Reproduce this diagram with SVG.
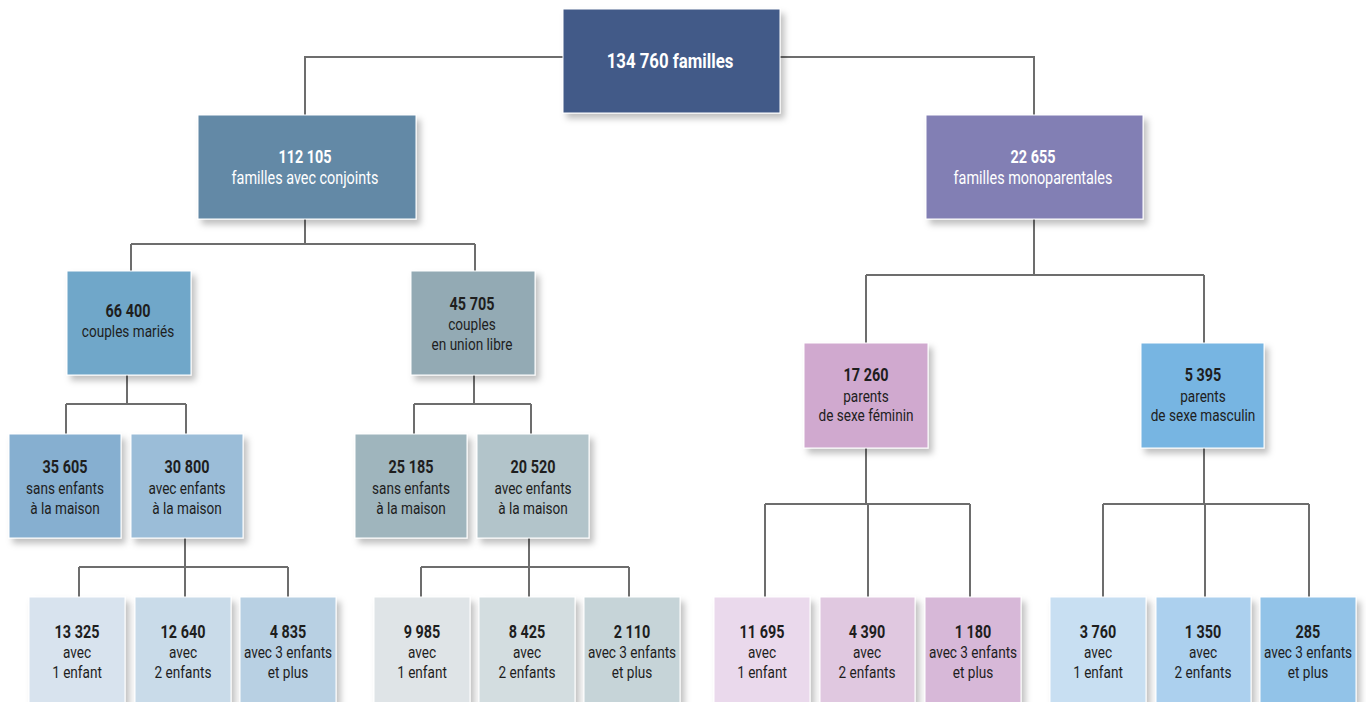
<svg xmlns="http://www.w3.org/2000/svg" width="1366" height="702" viewBox="0 0 1366 702">
<style>
text{font-family:Roboto,"DejaVu Sans",sans-serif;text-anchor:middle;fill:#1e1e1e;font-size:17px}
.n{font-weight:bold;font-size:18px}
.w{fill:#fff}
.t{font-size:21px;font-weight:bold}
.l{font-size:18px}
#connectors path{fill:none;stroke:#6d6d6d;stroke-width:2}
rect{filter:url(#sh);stroke:#fff;stroke-width:1}
</style>
<defs>
<filter id="sh" x="-10%" y="-10%" width="130%" height="130%">
<feDropShadow dx="4" dy="5" stdDeviation="3" flood-color="#000" flood-opacity="0.25"/>
</filter>
</defs>
<rect x="0" y="0" width="1366" height="702" fill="#fff" style="filter:none;stroke:none"/>
<g id="connectors">
<path d="M563 57H305V115M780 57H1034V115"/>
<path d="M305 219V244M131 244H475M131 244V271M475 244V271"/>
<path d="M127 375V404M66 404H186M66 404V434M186 404V434"/>
<path d="M474 375V404M414 404H531M414 404V434M531 404V434"/>
<path d="M185 538V567M79 567H288M79 567V597M185 567V597M288 567V597"/>
<path d="M529 538V567M421 567H629M421 567V597M529 567V597M629 567V597"/>
<path d="M1034 219V275M866 275H1204M866 275V343M1204 275V343"/>
<path d="M866 448V504M765 504H970M765 504V597M868 504V597M970 504V597"/>
<path d="M1204 448V504M1103 504H1309M1103 504V597M1205 504V597M1309 504V597"/>
</g>
<g id="n0"><rect x="563" y="9" width="217" height="104" fill="#425a88"/><g transform="translate(670,0) scale(0.8,1)"><text class="t w" x="0" y="68">134 760 familles</text></g></g>
<g id="n1"><rect x="198" y="115" width="218" height="104" fill="#6389a6"/><g transform="translate(305,0) scale(0.8,1)"><text class="n w" x="0" y="163">112 105</text><text class="w l" x="0" y="184">familles avec conjoints</text></g></g>
<g id="n2"><rect x="926" y="115" width="217" height="104" fill="#827fb4"/><g transform="translate(1033,0) scale(0.8,1)"><text class="n w" x="0" y="163">22 655</text><text class="w l" x="0" y="184">familles monoparentales</text></g></g>
<g id="n3"><rect x="67" y="271" width="124" height="104" fill="#70a7c9"/><g transform="translate(128,0) scale(0.8,1)"><text class="n" x="0" y="317">66 400</text><text x="0" y="337">couples mariés</text></g></g>
<g id="n4"><rect x="411" y="271" width="124" height="104" fill="#93aab4"/><g transform="translate(472,0) scale(0.8,1)"><text class="n" x="0" y="310">45 705</text><text x="0" y="330">couples</text><text x="0" y="350">en union libre</text></g></g>
<g id="n5"><rect x="9" y="434" width="112" height="104" fill="#86afd0"/><g transform="translate(65,0) scale(0.8,1)"><text class="n" x="0" y="473">35 605</text><text x="0" y="494">sans enfants</text><text x="0" y="514">à la maison</text></g></g>
<g id="n6"><rect x="131" y="434" width="112" height="104" fill="#9bbdd8"/><g transform="translate(187,0) scale(0.8,1)"><text class="n" x="0" y="473">30 800</text><text x="0" y="494">avec enfants</text><text x="0" y="514">à la maison</text></g></g>
<g id="n7"><rect x="355" y="434" width="112" height="104" fill="#9fb5bd"/><g transform="translate(411,0) scale(0.8,1)"><text class="n" x="0" y="473">25 185</text><text x="0" y="494">sans enfants</text><text x="0" y="514">à la maison</text></g></g>
<g id="n8"><rect x="477" y="434" width="112" height="104" fill="#b2c4ca"/><g transform="translate(533,0) scale(0.8,1)"><text class="n" x="0" y="473">20 520</text><text x="0" y="494">avec enfants</text><text x="0" y="514">à la maison</text></g></g>
<g id="n9"><rect x="804" y="343" width="124" height="105" fill="#d0a9cf"/><g transform="translate(866,0) scale(0.8,1)"><text class="n" x="0" y="381">17 260</text><text x="0" y="402">parents</text><text x="0" y="421">de sexe féminin</text></g></g>
<g id="n10"><rect x="1141" y="343" width="123" height="105" fill="#77b5e2"/><g transform="translate(1203,0) scale(0.8,1)"><text class="n" x="0" y="381">5 395</text><text x="0" y="402">parents</text><text x="0" y="421">de sexe masculin</text></g></g>
<g id="n11"><rect x="29" y="597" width="96" height="108" fill="#d8e3ee"/><g transform="translate(77,0) scale(0.8,1)"><text class="n" x="0" y="638">13 325</text><text x="0" y="658">avec</text><text x="0" y="678">1 enfant</text></g></g>
<g id="n12"><rect x="135" y="597" width="96" height="108" fill="#c9dbe9"/><g transform="translate(183,0) scale(0.8,1)"><text class="n" x="0" y="638">12 640</text><text x="0" y="658">avec</text><text x="0" y="678">2 enfants</text></g></g>
<g id="n13"><rect x="240" y="597" width="96" height="108" fill="#b8d0e3"/><g transform="translate(288,0) scale(0.8,1)"><text class="n" x="0" y="638">4 835</text><text x="0" y="658">avec 3 enfants</text><text x="0" y="678">et plus</text></g></g>
<g id="n14"><rect x="374" y="597" width="96" height="108" fill="#dfe4e7"/><g transform="translate(422,0) scale(0.8,1)"><text class="n" x="0" y="638">9 985</text><text x="0" y="658">avec</text><text x="0" y="678">1 enfant</text></g></g>
<g id="n15"><rect x="479" y="597" width="96" height="108" fill="#d3dde0"/><g transform="translate(527,0) scale(0.8,1)"><text class="n" x="0" y="638">8 425</text><text x="0" y="658">avec</text><text x="0" y="678">2 enfants</text></g></g>
<g id="n16"><rect x="584" y="597" width="96" height="108" fill="#c6d4d8"/><g transform="translate(632,0) scale(0.8,1)"><text class="n" x="0" y="638">2 110</text><text x="0" y="658">avec 3 enfants</text><text x="0" y="678">et plus</text></g></g>
<g id="n17"><rect x="714" y="597" width="96" height="108" fill="#ead9ec"/><g transform="translate(762,0) scale(0.8,1)"><text class="n" x="0" y="638">11 695</text><text x="0" y="658">avec</text><text x="0" y="678">1 enfant</text></g></g>
<g id="n18"><rect x="820" y="597" width="95" height="108" fill="#e0c8e0"/><g transform="translate(867,0) scale(0.8,1)"><text class="n" x="0" y="638">4 390</text><text x="0" y="658">avec</text><text x="0" y="678">2 enfants</text></g></g>
<g id="n19"><rect x="925" y="597" width="96" height="108" fill="#d7b8d8"/><g transform="translate(973,0) scale(0.8,1)"><text class="n" x="0" y="638">1 180</text><text x="0" y="658">avec 3 enfants</text><text x="0" y="678">et plus</text></g></g>
<g id="n20"><rect x="1050" y="597" width="96" height="108" fill="#c8dff2"/><g transform="translate(1098,0) scale(0.8,1)"><text class="n" x="0" y="638">3 760</text><text x="0" y="658">avec</text><text x="0" y="678">1 enfant</text></g></g>
<g id="n21"><rect x="1156" y="597" width="95" height="108" fill="#acd0ee"/><g transform="translate(1203,0) scale(0.8,1)"><text class="n" x="0" y="638">1 350</text><text x="0" y="658">avec</text><text x="0" y="678">2 enfants</text></g></g>
<g id="n22"><rect x="1260" y="597" width="96" height="108" fill="#92c3e8"/><g transform="translate(1308,0) scale(0.8,1)"><text class="n" x="0" y="638">285</text><text x="0" y="658">avec 3 enfants</text><text x="0" y="678">et plus</text></g></g>
</svg>
